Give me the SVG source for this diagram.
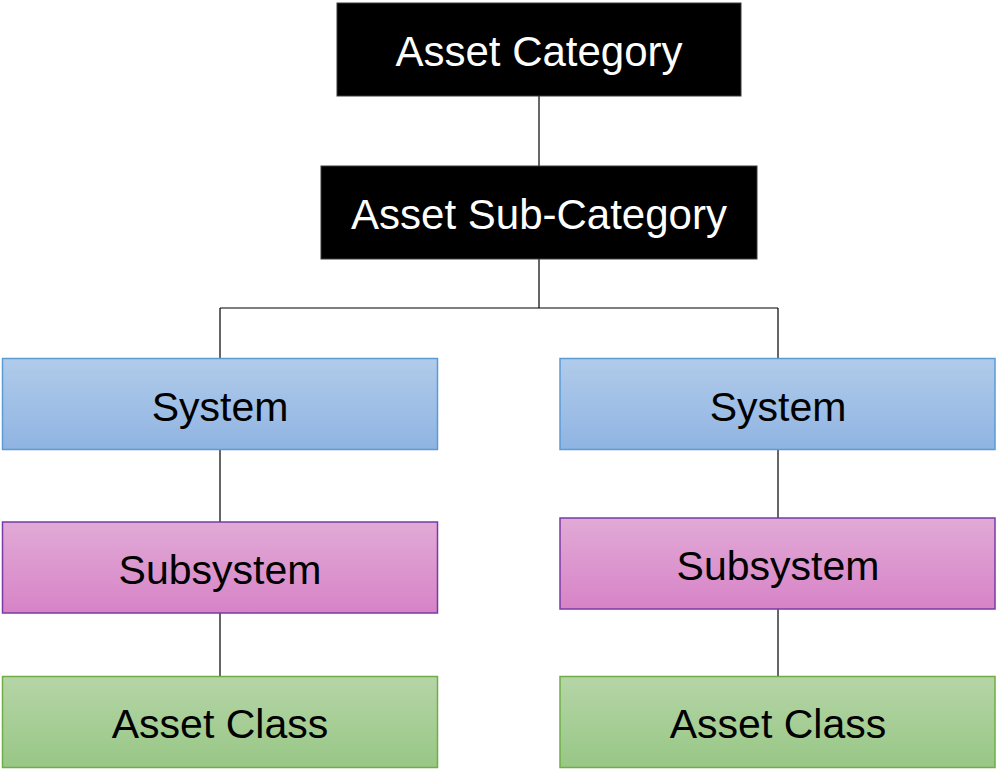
<svg xmlns="http://www.w3.org/2000/svg" width="997" height="769" viewBox="0 0 997 769">
  <defs>
    <linearGradient id="gBlue" x1="0" y1="0" x2="0" y2="1">
      <stop offset="0" stop-color="#b1cbea"/>
      <stop offset="1" stop-color="#8fb4e2"/>
    </linearGradient>
    <linearGradient id="gPink" x1="0" y1="0" x2="0" y2="1">
      <stop offset="0" stop-color="#e1aad6"/>
      <stop offset="1" stop-color="#d783c7"/>
    </linearGradient>
    <linearGradient id="gGreen" x1="0" y1="0" x2="0" y2="1">
      <stop offset="0" stop-color="#b5d5a7"/>
      <stop offset="1" stop-color="#98c786"/>
    </linearGradient>
  </defs>
  <style>
    .lbl { font-family: "Liberation Sans", Arial, sans-serif; text-anchor: middle; }
    .dark rect { fill: #000000; stroke: #3a3a3a; stroke-width: 1; }
    .dark text { fill: #ffffff; font-size: 42px; }
    .col text { fill: #000000; font-size: 41px; }
    .sys rect { fill: url(#gBlue); stroke: #5b9bd5; stroke-width: 1.5; }
    .sub rect { fill: url(#gPink); stroke: #7a3aa6; stroke-width: 1.5; }
    .cls rect { fill: url(#gGreen); stroke: #70ad47; stroke-width: 1.5; }
    .conn { fill: none; stroke: #000000; stroke-width: 1.2; }
  </style>
  <rect width="997" height="769" fill="#ffffff"/>
  <g id="connectors">
    <path class="conn" d="M539,96 V166"/>
    <path class="conn" d="M539,259 V308 M220,308 H778 M220,308 V358 M778,308 V358"/>
    <path class="conn" d="M220,449 V522 M220,613 V676"/>
    <path class="conn" d="M778,449 V518 M778,609 V676"/>
  </g>
  <g id="asset-category" class="dark">
    <rect x="337" y="3" width="404" height="93"/>
    <text class="lbl" x="539" y="66">Asset Category</text>
  </g>
  <g id="asset-sub-category" class="dark">
    <rect x="321" y="166" width="436" height="93"/>
    <text class="lbl" x="539" y="229">Asset Sub-Category</text>
  </g>
  <g id="system-left" class="col sys">
    <rect x="2.5" y="358.5" width="435" height="91"/>
    <text class="lbl" x="220" y="421">System</text>
  </g>
  <g id="subsystem-left" class="col sub">
    <rect x="2.5" y="522" width="435" height="91"/>
    <text class="lbl" x="220" y="584">Subsystem</text>
  </g>
  <g id="asset-class-left" class="col cls">
    <rect x="2.5" y="676.5" width="435" height="91"/>
    <text class="lbl" x="220" y="738">Asset Class</text>
  </g>
  <g id="system-right" class="col sys">
    <rect x="560" y="358.5" width="435" height="91"/>
    <text class="lbl" x="778" y="421">System</text>
  </g>
  <g id="subsystem-right" class="col sub">
    <rect x="560" y="518" width="435" height="91"/>
    <text class="lbl" x="778" y="580">Subsystem</text>
  </g>
  <g id="asset-class-right" class="col cls">
    <rect x="560" y="676.5" width="435" height="91"/>
    <text class="lbl" x="778" y="738">Asset Class</text>
  </g>
</svg>
